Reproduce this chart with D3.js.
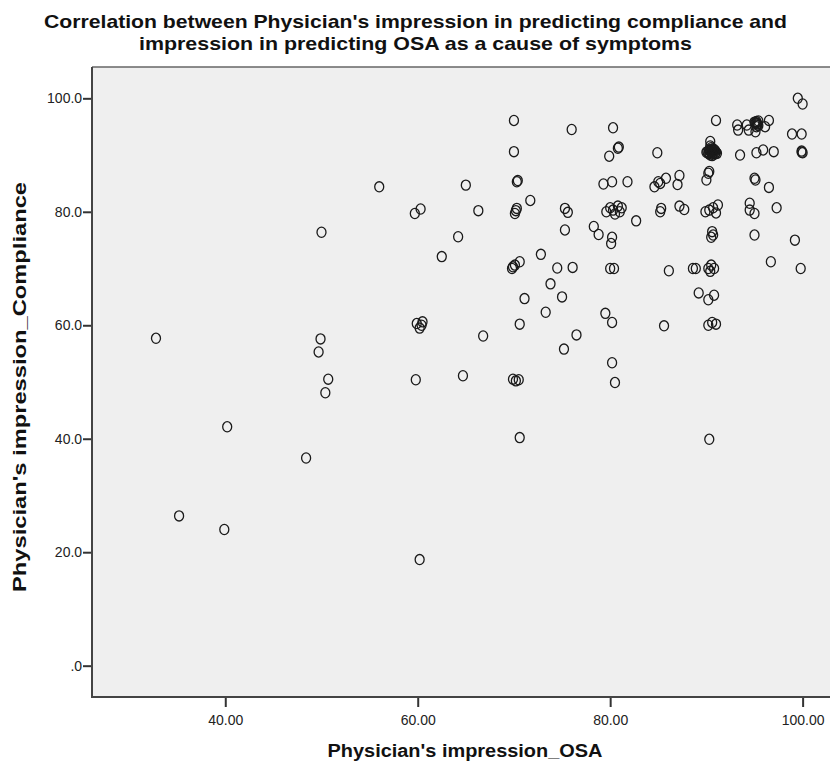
<!DOCTYPE html>
<html>
<head>
<meta charset="utf-8">
<script src="https://cdn.jsdelivr.net/npm/d3@7"></script>
<style>
  html, body { margin: 0; padding: 0; background: #ffffff; }
  svg { display: block; font-family: "Liberation Sans", Arial, sans-serif; }
</style>
</head>
<body>
<svg id="chart" width="830" height="771"></svg>
<script>
const titleLines = [
  "Correlation between Physician's impression in predicting compliance and",
  "impression in predicting OSA as a cause of symptoms"
];
const xLabel = "Physician's impression_OSA";
const yLabel = "Physician's impression_Compliance";

const xTicks = [40, 60, 80, 100];
const xTickLabels = ["40.00", "60.00", "80.00", "100.00"];
const yTicks = [0, 20, 40, 60, 80, 100];
const yTickLabels = [".0", "20.0", "40.0", "60.0", "80.0", "100.0"];

// Physician's impression_OSA (x)
const osa = [
  80.3, 91.0, 93.2, 93.3, 94.2, 94.4, 95.2, 95.3, 95.1, 95.2, 95.4, 95.0, 96.1, 96.5, 99.5, 100.0, 98.9, 99.9,
  95.3, 95.1, 95.4, 95.2,
  80.8, 80.9, 79.9, 84.9, 90.4,
  90.0, 90.3, 90.6, 90.8, 91.0, 90.5, 90.2, 90.9, 90.6, 90.4,
  90.3, 90.7, 90.5, 90.8, 90.3, 90.6, 90.9, 90.1, 91.1, 90.5, 90.4, 90.7,
  93.5, 95.2, 95.9, 97.0, 99.9, 100.0, 99.9,
  79.3, 80.2, 81.8, 84.6, 85.0, 85.8, 85.2, 87.2, 87.0, 90.2, 90.0, 90.3, 95.0, 95.1, 96.5,
  79.6, 80.0, 80.3, 80.8, 81.2, 81.0, 80.5, 82.7, 85.3, 85.2, 87.2, 87.7, 89.9, 90.3, 90.7, 91.2, 91.0,
  94.5, 94.5, 95.0, 97.3, 78.3, 78.8, 80.2, 80.1, 90.6, 90.7, 90.5, 95.0, 99.2,
  80.0, 80.4, 86.1, 88.6, 88.9, 90.2, 90.5, 90.8, 90.4, 96.7, 99.8,
  70.0, 76.0, 70.0, 56.0, 65.0, 70.3, 70.4, 59.7, 60.3, 66.3, 70.1, 70.3, 70.2, 71.7, 75.3, 75.6, 75.3,
  64.2, 62.5, 69.9, 70.6, 70.1, 69.8, 72.8, 74.5, 76.1, 73.8, 71.1, 75.0, 73.3, 70.6, 76.5, 75.2,
  59.9, 60.4, 60.2, 60.5, 66.8, 50.7, 50.4, 59.8, 64.7, 69.9, 70.5, 70.2, 70.6,
  89.2, 90.2, 90.8, 79.5, 80.2, 85.6, 90.2, 90.6, 91.0, 80.2, 80.5, 90.3,
  50.0, 32.8, 49.9, 49.7, 40.2, 48.4, 35.2, 39.9, 60.2
];
// Physician's impression_Compliance (y)
const compliance = [
  94.8, 96.1, 95.3, 94.4, 95.3, 94.4, 95.9, 95.3, 94.1, 95.6, 96.0, 95.8, 95.0, 96.1, 100.0, 99.0, 93.7, 93.7,
  95.5, 95.7, 95.2, 95.0,
  91.2, 91.4, 89.8, 90.4, 92.4,
  90.5, 90.8, 90.2, 90.9, 90.5, 91.0, 90.3, 90.2, 90.6, 90.0,
  90.3, 90.7, 90.5, 90.4, 90.9, 89.9, 90.8, 90.6, 90.3, 91.3, 91.6, 91.1,
  90.0, 90.4, 90.9, 90.6, 90.7, 90.4, 90.5,
  84.9, 85.3, 85.3, 84.4, 85.3, 85.9, 85.0, 86.4, 84.8, 86.8, 85.6, 87.1, 85.9, 85.6, 84.3,
  80.0, 80.7, 80.3, 81.0, 80.7, 80.0, 79.6, 78.4, 80.6, 80.0, 81.0, 80.4, 80.0, 80.3, 80.7, 81.2, 79.8,
  81.5, 80.3, 79.7, 80.7, 77.4, 76.0, 75.5, 74.4, 76.5, 75.9, 75.5, 75.9, 75.0,
  70.0, 70.0, 69.6, 70.0, 70.0, 70.0, 70.6, 70.0, 69.5, 71.2, 70.0,
  96.1, 94.5, 90.6, 84.4, 84.7, 85.3, 85.5, 79.7, 80.5, 80.2, 79.7, 80.6, 80.2, 82.0, 80.6, 79.9, 76.8,
  75.6, 72.1, 70.3, 71.2, 70.6, 70.0, 72.5, 70.1, 70.2, 67.3, 64.7, 65.0, 62.3, 60.2, 58.3, 55.8,
  60.3, 60.0, 59.5, 60.6, 58.1, 50.5, 48.1, 50.4, 51.1, 50.5, 50.4, 50.2, 40.2,
  65.7, 64.5, 65.3, 62.1, 60.5, 59.9, 60.0, 60.5, 60.2, 53.4, 49.9, 39.9,
  76.4, 57.7, 57.6, 55.3, 42.1, 36.6, 26.4, 24.0, 18.7
];

const points = osa.map((v, i) => ({ x: v, y: compliance[i] }));

const svg = d3.select("#chart");
const plot = { left: 92, right: 831, top: 67, bottom: 697 };

const x = d3.scaleLinear().domain([26.15, 102.95]).range([plot.left, plot.right]);
const y = d3.scaleLinear().domain([-5.52, 105.52]).range([plot.bottom, plot.top]);

// plot background
svg.append("rect")
  .attr("x", plot.left).attr("y", plot.top)
  .attr("width", plot.right - plot.left).attr("height", plot.bottom - plot.top)
  .attr("fill", "#efefef");

// top frame line
svg.append("line")
  .attr("x1", plot.left).attr("x2", plot.right)
  .attr("y1", plot.top).attr("y2", plot.top)
  .attr("stroke", "#666").attr("stroke-width", 1.5);

// points
svg.append("g").selectAll("ellipse").data(points).join("ellipse")
  .attr("cx", d => x(d.x))
  .attr("cy", d => y(d.y))
  .attr("rx", 4.5).attr("ry", 5.1)
  .attr("fill", "none")
  .attr("stroke", "#1a1a1a")
  .attr("stroke-width", 1.3);

// axes
const xAxis = d3.axisBottom(x).tickValues(xTicks)
  .tickFormat((d, i) => xTickLabels[i]).tickSize(10).tickSizeOuter(0);
const yAxis = d3.axisLeft(y).tickValues(yTicks)
  .tickFormat((d, i) => yTickLabels[i]).tickSize(9).tickSizeOuter(0);

const gx = svg.append("g").attr("transform", `translate(0,${plot.bottom})`).call(xAxis);
gx.select(".domain").remove();
gx.selectAll(".tick line").attr("stroke", "#333").attr("stroke-width", 2);
gx.selectAll(".tick text").attr("font-size", 14).attr("fill", "#222").attr("dy", "1.1em")
  .attr("font-family", "'Liberation Sans', Arial, sans-serif");

const gy = svg.append("g").attr("transform", `translate(${plot.left},0)`).call(yAxis);
gy.select(".domain").remove();
gy.selectAll(".tick line").attr("stroke", "#333").attr("stroke-width", 2);
gy.selectAll(".tick text").attr("font-size", 14).attr("fill", "#222").attr("dx", "0.15em")
  .attr("font-family", "'Liberation Sans', Arial, sans-serif");

// frame: left and bottom
svg.append("line")
  .attr("x1", plot.left).attr("x2", plot.left)
  .attr("y1", plot.top).attr("y2", plot.bottom + 1)
  .attr("stroke", "#444").attr("stroke-width", 2);
svg.append("line")
  .attr("x1", plot.left).attr("x2", plot.right)
  .attr("y1", plot.bottom).attr("y2", plot.bottom)
  .attr("stroke", "#444").attr("stroke-width", 2);

// title
svg.append("text").attr("x", 415.5).attr("y", 28)
  .attr("text-anchor", "middle").attr("font-size", 19).attr("font-weight", "bold").attr("fill", "#111")
  .attr("textLength", 743).attr("lengthAdjust", "spacingAndGlyphs")
  .text(titleLines[0]);
svg.append("text").attr("x", 415.5).attr("y", 50)
  .attr("text-anchor", "middle").attr("font-size", 19).attr("font-weight", "bold").attr("fill", "#111")
  .attr("textLength", 553).attr("lengthAdjust", "spacingAndGlyphs")
  .text(titleLines[1]);

// axis titles
svg.append("text").attr("x", 465).attr("y", 757)
  .attr("text-anchor", "middle").attr("font-size", 18).attr("font-weight", "bold").attr("fill", "#111")
  .attr("textLength", 275).attr("lengthAdjust", "spacingAndGlyphs")
  .text(xLabel);
svg.append("text")
  .attr("transform", "translate(26,387) rotate(-90)")
  .attr("text-anchor", "middle").attr("font-size", 18).attr("font-weight", "bold").attr("fill", "#111")
  .attr("textLength", 410).attr("lengthAdjust", "spacingAndGlyphs")
  .text(yLabel);
</script>
</body>
</html>
